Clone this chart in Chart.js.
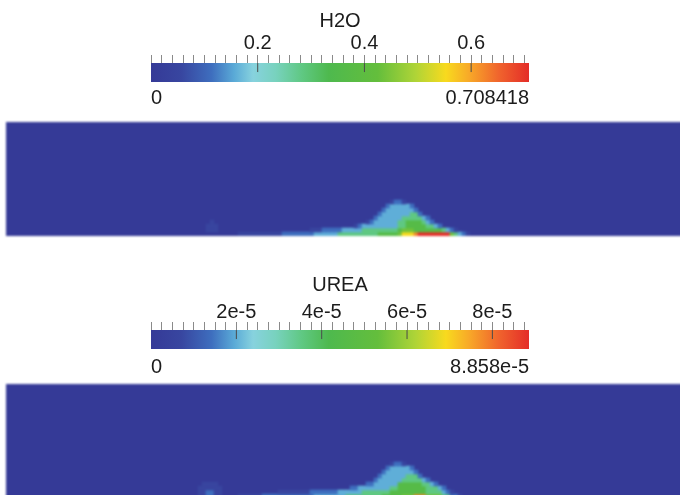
<!DOCTYPE html>
<html><head><meta charset="utf-8">
<script src="https://cdn.jsdelivr.net/npm/chart.js@4/dist/chart.umd.min.js"></script>
<style>
html,body{margin:0;padding:0;background:#fff;overflow:hidden;width:680px;height:495px;}
canvas{position:absolute;}
.field{filter:blur(1.1px);}
</style></head><body>
<canvas id="cb1" width="480" height="115" style="left:100px;top:0px"></canvas>
<canvas id="f1" class="field" width="676" height="114" style="left:6px;top:122px"></canvas>
<canvas id="cb2" width="480" height="115" style="left:100px;top:264px"></canvas>
<canvas id="f2" class="field" width="676" height="114" style="left:6px;top:384px"></canvas>
<script>
// ---- colour bar data ----
const h2oTitle = 'H2O';
const h2oMax = 0.708418;
const h2oMajor = [0.2, 0.4, 0.6];
const h2oMajorLabels = ['0.2', '0.4', '0.6'];
const h2oMinorStep = 0.02;
const h2oEndLabels = ['0', '0.708418'];

const ureaTitle = 'UREA';
const ureaMax = 8.858e-5;
const ureaMajor = [2e-5, 4e-5, 6e-5, 8e-5];
const ureaMajorLabels = ['2e-5', '4e-5', '6e-5', '8e-5'];
const ureaMinorStep = 2.5e-6;
const ureaEndLabels = ['0', '8.858e-5'];

// colour map stops [fraction, r, g, b]
const cmapStops = [
  [0.00, 53, 58, 151], [0.08, 56, 70, 160], [0.16, 62, 110, 190], [0.22, 90, 170, 215],
  [0.27, 135, 210, 222], [0.33, 120, 210, 190], [0.40, 95, 200, 130], [0.47, 78, 185, 78],
  [0.60, 100, 190, 60], [0.70, 175, 212, 55], [0.78, 248, 218, 30], [0.84, 248, 170, 40],
  [0.92, 240, 100, 45], [1.00, 228, 45, 40]
];

// value (fraction of the bar maximum) read for each level code 0-9
const levelValues = [0, 0.07, 0.16, 0.225, 0.40, 0.52, 0.62, 0.78, 0.88, 1.0];

// ---- field data: rows top->bottom, segments [startColumn, level codes] ----
const h2oRows = [
  [[48, '1221']],
  [[47, '2333332']],
  [[46, '233333332']],
  [[45, '23333333442']],
  [[44, '23333334444432']],
  [[3, '1'], [42, '12333333445555432']],
  [[2, '111'], [39, '1233333333344555554432']],
  [[2, '111'], [28, '1112222233333444444444566655555554321']],
  [[10, '1111111111122222222333333444444444455555677789999999964321']]
];
const ureaRows = [
  [[48, '1221']],
  [[47, '2333332']],
  [[46, '233333332']],
  [[45, '23333334442']],
  [[44, '23333334444432']],
  [[1, '1111'], [42, '223333335555554432']],
  [[0, '111111'], [38, '223333333344555555544432']],
  [[0, '112211'], [20, '11111111222222233333344444445555555554444321']],
  [[0, '112211'], [10, '11111122222222222223333333344444444455555666888666644221']]
];
const plumeCol0 = 48;    // first column of the plume window
const nCols = 169;       // columns across the field
const fieldDepth = 28.5; // field height in rows

function cmap(f) {
  f = Math.max(0, Math.min(1, f));
  for (let i = 1; i < cmapStops.length; i++) {
    const a = cmapStops[i - 1], b = cmapStops[i];
    if (f <= b[0]) {
      const t = (f - a[0]) / (b[0] - a[0]);
      return 'rgb(' + [1, 2, 3].map(k => Math.round(a[k] + (b[k] - a[k]) * t)).join(',') + ')';
    }
  }
  const l = cmapStops[cmapStops.length - 1];
  return 'rgb(' + l[1] + ',' + l[2] + ',' + l[3] + ')';
}

const FONT = "'Liberation Sans', Arial, sans-serif";
const TXT = '#1c1c1c';

function gradientFill(chart) {
  const {ctx, chartArea} = chart;
  if (!chartArea) return null;
  const g = ctx.createLinearGradient(chartArea.left, 0, chartArea.right, 0);
  cmapStops.forEach(s => g.addColorStop(s[0], 'rgb(' + s[1] + ',' + s[2] + ',' + s[3] + ')'));
  return g;
}

function makeColorbar(id, title, max, major, majorLabels, minorStep, endLabels, geo) {
  const minor = [];
  const n = Math.floor(max / minorStep + 1e-6);
  for (let i = 0; i <= n; i++) minor.push(i * minorStep);
  new Chart(document.getElementById(id), {
    type: 'scatter',
    data: {
      datasets: [
        {
          type: 'line', data: [{x: 0, y: 1}, {x: max, y: 1}], fill: 'start',
          backgroundColor: c => gradientFill(c.chart), borderWidth: 0, pointRadius: 0,
          xAxisID: 'x', yAxisID: 'y', order: 2
        },
        {
          type: 'scatter', data: major.map(v => ({x: v, y: 0.76})), pointStyle: 'line',
          rotation: 90, pointRadius: 4.5, borderColor: '#4a4a4a', borderWidth: 1,
          xAxisID: 'x', yAxisID: 'y', order: 1
        }
      ]
    },
    options: {
      responsive: false, animation: false, devicePixelRatio: 1,
      layout: {padding: {left: 51, right: 51, top: 0, bottom: geo.padBottom}},
      plugins: {legend: {display: false}, tooltip: {enabled: false}},
      scales: {
        x: {
          type: 'linear', position: 'top', min: 0, max: max,
          afterBuildTicks: s => { s.ticks = minor.map(v => ({value: v})); },
          afterFit: s => { s.height = geo.topH; },
          ticks: {
            autoSkip: false, maxRotation: 0, minRotation: 0, padding: geo.tickPad,
            color: TXT, font: {family: FONT, size: 20, lineHeight: 1},
            callback: v => { const i = major.findIndex(m => Math.abs(m - v) < minorStep / 10); return i >= 0 ? majorLabels[i] : ''; }
          },
          grid: {display: true, drawOnChartArea: false, drawTicks: true, tickLength: 8, tickColor: '#8a8a8a', tickWidth: 1},
          border: {display: false},
          title: {display: true, text: title, color: TXT, font: {family: FONT, size: 20, lineHeight: 1}, padding: {top: geo.titlePad, bottom: 0}}
        },
        x2: {
          type: 'linear', position: 'bottom', min: 0, max: max,
          afterBuildTicks: s => { s.ticks = [{value: 0}, {value: max}]; },
          afterFit: s => { s.height = 28; },
          ticks: {
            autoSkip: false, maxRotation: 0, minRotation: 0, align: 'inner', padding: geo.endPad,
            color: TXT, font: {family: FONT, size: 20, lineHeight: 1},
            callback: (v, i) => endLabels[i]
          },
          grid: {display: false, drawTicks: false},
          border: {display: false}
        },
        y: {type: 'linear', min: 0, max: 1, display: false}
      }
    }
  });
}

const fieldBg = {
  id: 'fieldBg',
  beforeDatasetsDraw(chart) {
    const {ctx, chartArea: a} = chart;
    ctx.save(); ctx.fillStyle = cmap(0); ctx.fillRect(a.left, a.top, a.right - a.left, a.bottom - a.top); ctx.restore();
  }
};

function makeField(id, rows) {
  const labels = [];
  for (let c = 0; c < nCols; c++) labels.push(c);
  const nRows = rows.length;
  const datasets = rows.map((segs, ri) => {
    const r = nRows - 1 - ri;
    const data = new Array(nCols).fill(null);
    const colors = new Array(nCols).fill('rgba(0,0,0,0)');
    segs.forEach(([start, levels]) => {
      for (let j = 0; j < levels.length; j++) {
        const d = +levels[j];
        if (d === 0) continue;
        const c = plumeCol0 + start + j;
        data[c] = [r, r + 1];
        colors[c] = cmap(levelValues[d]);
      }
    });
    return {data, backgroundColor: colors, borderWidth: 0, grouped: false, barPercentage: 1, categoryPercentage: 1};
  });
  new Chart(document.getElementById(id), {
    type: 'bar',
    data: {labels, datasets},
    options: {
      responsive: false, animation: false, devicePixelRatio: 1,
      layout: {padding: 0},
      plugins: {legend: {display: false}, tooltip: {enabled: false}},
      scales: {
        x: {display: false},
        y: {display: false, min: 0, max: fieldDepth}
      }
    },
    plugins: [fieldBg]
  });
}

makeColorbar('cb1', h2oTitle, h2oMax, h2oMajor, h2oMajorLabels, h2oMinorStep, h2oEndLabels,
  {topH: 63, tickPad: 2, titlePad: 11, endPad: 6, padBottom: 5});
makeColorbar('cb2', ureaTitle, ureaMax, ureaMajor, ureaMajorLabels, ureaMinorStep, ureaEndLabels,
  {topH: 66, tickPad: 0, titlePad: 11, endPad: 8, padBottom: 2});
makeField('f1', h2oRows);
makeField('f2', ureaRows);
</script>
</body></html>
